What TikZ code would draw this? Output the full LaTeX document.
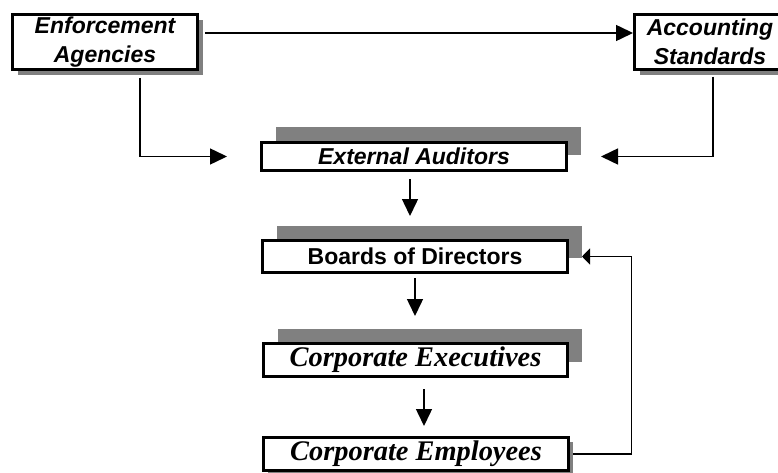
\documentclass[tikz,border=0pt]{standalone}
\usepackage{fontspec}
\usetikzlibrary{shadows,arrows.meta}
\newfontfamily\arialx{Liberation Sans}
\newfontfamily\timesx{Liberation Serif}
\definecolor{shgray}{HTML}{808080}
\begin{document}
\begin{tikzpicture}[x=1pt,y=-1pt,
  box/.style={draw=black,line width=3pt,fill=white,inner sep=0pt,align=center},
  shup/.style={drop shadow={shadow xshift=14pt,shadow yshift=15pt,fill=shgray,opacity=1}},
  shdn/.style={drop shadow={shadow xshift=5pt,shadow yshift=-6pt,fill=shgray,opacity=1}},
  shsm/.style={drop shadow={shadow xshift=4pt,shadow yshift=-4pt,fill=shgray,opacity=1}},
  sanslab/.style={font=\arialx\bfseries\itshape\fontsize{23}{29}\selectfont},
  sansup/.style={font=\arialx\bfseries\fontsize{23}{29}\selectfont},
  seriflab/.style={font=\timesx\bfseries\itshape\fontsize{28.4}{30}\selectfont},
  arr/.style={line width=1.5pt,-{Triangle[length=17pt,width=16pt]}},
  arrsm/.style={line width=1.5pt,-{Triangle[length=8pt,width=16pt]}}]
\useasboundingbox (0,0) rectangle (778,473);

\node[box,shdn,sanslab,minimum width=185pt,minimum height=55pt] (ea) at (105,42) {Enforcement\\Agencies};
\node[box,shdn,sanslab,minimum width=151pt,minimum height=55pt] (as) at (710,42) {Accounting\\Standards};
\node[box,shup,sanslab,minimum width=305pt,minimum height=28pt] (aud) at (414,156.5) {External Auditors};
\node[box,shup,sansup,minimum width=305pt,minimum height=32pt] (bod) at (415,256.5) {Boards of Directors};
\node[box,shup,seriflab,minimum width=304pt,minimum height=33pt] (exe) at (415.5,360) {Corporate Executives};
\node[box,shsm,seriflab,minimum width=305pt,minimum height=33pt] (emp) at (416,454) {Corporate Employees};

\draw[arr] ([xshift=6pt,yshift=9pt]ea.east) -- ([yshift=9pt]as.west);
\draw[arr] ([xshift=35pt,yshift=-7pt]ea.south) |- ([xshift=-33pt]aud.west);
\draw[line width=1.5pt] ([xshift=3pt,yshift=-6pt]as.south) -- ([xshift=3pt,yshift=-85pt]as.south);
\draw[arr] ([xshift=3pt,yshift=-6pt]as.south) |- ([xshift=33pt]aud.east);
\draw[arr] ([xshift=-4pt,yshift=-7pt]aud.south) -- ++(0,37);
\draw[arr] ([xshift=0pt,yshift=-4pt]bod.south) -- ++(0,38);
\draw[arr] ([xshift=8.5pt,yshift=-11pt]exe.south) -- ++(0,37);
\draw[arrsm] ([xshift=3pt]emp.east) -- ++(58.5,0) |- ([xshift=13pt]bod.east);
\end{tikzpicture}
\end{document}
